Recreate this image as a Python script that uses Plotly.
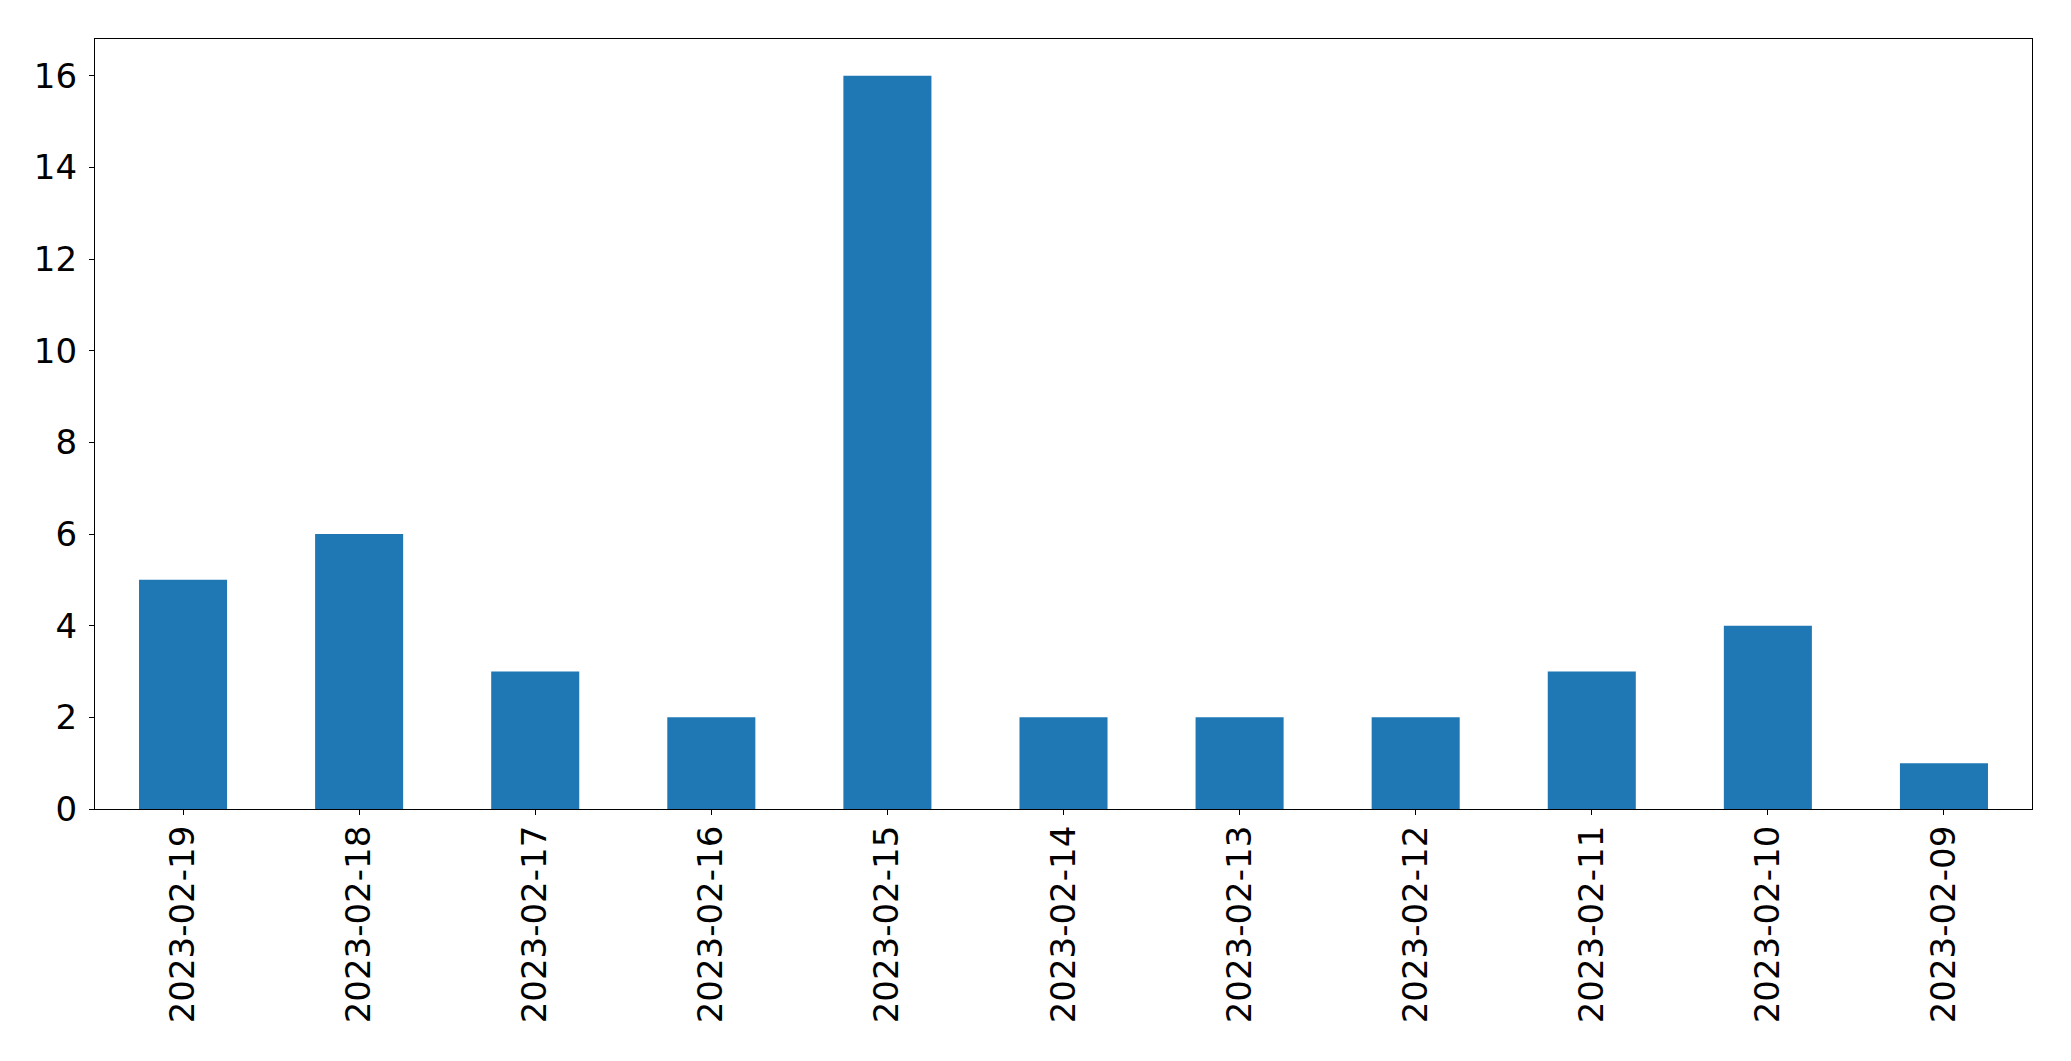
import plotly.graph_objects as go

dates = ["2023-02-19", "2023-02-18", "2023-02-17", "2023-02-16", "2023-02-15",
         "2023-02-14", "2023-02-13", "2023-02-12", "2023-02-11", "2023-02-10", "2023-02-09"]
counts = [5, 6, 3, 2, 16, 2, 2, 2, 3, 4, 1]
y_ticks = [0, 2, 4, 6, 8, 10, 12, 14, 16]

fig = go.Figure(go.Bar(x=dates, y=counts, marker=dict(color="#1f77b4", line=dict(width=0)), width=0.5))

# page body has an 8px default margin, so the figure is sized to fit inside it
fig.update_layout(
    width=2063, height=1053,
    margin=dict(l=87, r=39, t=31, b=252, autoexpand=False),
    paper_bgcolor="white", plot_bgcolor="white",
    font=dict(family="DejaVu Sans", size=34, color="black"),
    showlegend=False,
)
fig.update_xaxes(
    type="category", range=[-0.5, 10.5], tickangle=-90, automargin=False,
    showline=True, linecolor="black", linewidth=1.3, mirror=True,
    ticks="outside", ticklen=5, tickwidth=1.3, tickcolor="black",
    showgrid=False, zeroline=False, ticklabelstandoff=-3,
)
fig.update_yaxes(
    range=[0, 16.8], tickvals=y_ticks, automargin=False,
    showline=True, linecolor="black", linewidth=1.3, mirror=True,
    ticks="outside", ticklen=5, tickwidth=1.3, tickcolor="black",
    showgrid=False, zeroline=False, ticklabelstandoff=5,
)
fig.write_html("out.html")
